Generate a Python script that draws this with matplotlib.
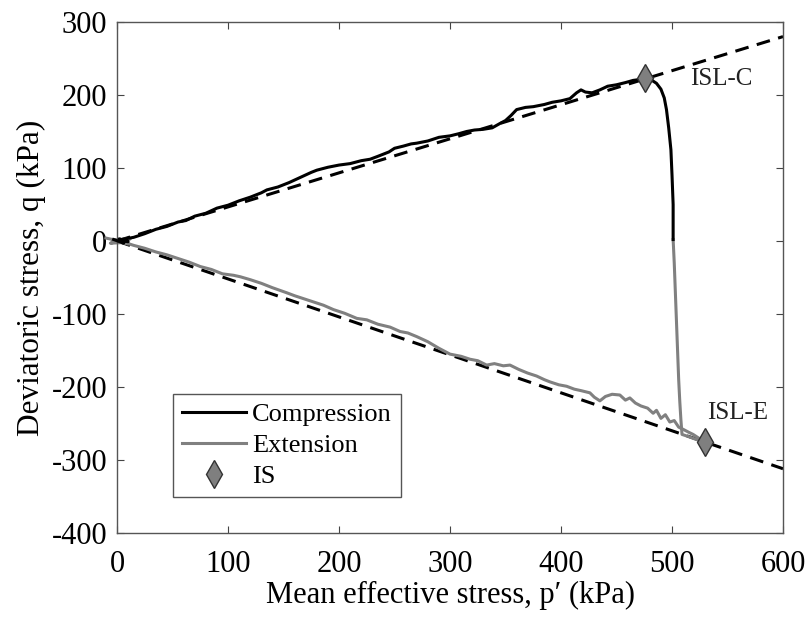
import numpy as np
import matplotlib
matplotlib.use("Agg")
import matplotlib.pyplot as plt

plt.rcParams['font.family'] = ['Liberation Serif', 'DejaVu Serif']
plt.rcParams['axes.unicode_minus'] = False

# compression path (black), p' and q in kPa
comp_p = [-3, 6, 2, 10, 4, 15, 25, 35, 45, 55, 62, 70, 80, 90, 100, 110, 120, 130, 135,
          145, 155, 165, 175, 180, 190, 200, 210, 220, 228, 235, 245, 250, 258, 265, 270,
          280, 290, 300, 308, 315, 322, 330, 338, 345, 350, 355, 360, 368, 375, 385, 392,
          400, 408, 414, 418, 422, 428, 435, 442, 450, 458, 465, 470, 476,
          481, 486, 490, 493, 495, 497, 499, 500, 501, 501, 501]
comp_q = [2, -3, 3, -1, 2, 5, 10, 16, 20, 26, 28, 34, 38, 45, 49, 55, 60, 66, 70,
          74, 80, 87, 94, 97, 101, 104, 106, 110, 112, 116, 122, 127, 130, 133, 134,
          137, 142, 144, 147, 150, 152, 153, 155, 161, 165, 172, 180, 183, 184, 187, 190,
          192, 195, 203, 207, 204, 203, 207, 212, 214, 217, 220, 221, 223,
          221, 216, 208, 196, 180, 155, 125, 90, 50, 20, 2]

# extension path (grey) from the origin to the lower IS
ext_p = [-10, 8, -6, 12, -4, 10, 3, 15, 25, 35, 45, 55, 65, 75, 85, 95, 105, 111, 120, 130,
         140, 153, 160, 170, 180, 186, 195, 205, 216, 225, 235, 246, 255, 262, 270, 280,
         290, 300, 310, 318, 325, 333, 340, 348, 354, 362, 370, 378, 385, 390, 398, 405,
         412, 418, 426, 430, 435, 440, 446, 453, 458, 462, 467, 472, 478, 483, 486, 490,
         494, 498, 502, 506, 510, 515, 519, 524, 530]
ext_q = [4, -2, -3, 3, 1, -4, 0, -6, -10, -15, -19, -24, -29, -35, -39, -45, -47, -49, -53, -58,
         -64, -71, -75, -80, -85, -88, -94, -99, -106, -108, -114, -118, -124, -126, -131, -138,
         -147, -155, -158, -162, -164, -170, -168, -171, -170, -176, -181, -185, -190, -193, -197, -199,
         -203, -205, -208, -214, -219, -213, -210, -211, -218, -215, -222, -226, -229, -236, -232, -243,
         -238, -248, -246, -255, -258, -262, -265, -270, -276]

# extension branch after the compression stage
drop_p = [501, 502, 503, 504, 505, 506, 507, 508, 509, 515, 522, 530]
drop_q = [2, -30, -70, -110, -150, -190, -220, -245, -265, -268, -272, -276]

# instability states
is_p = [476, 530]
is_q = [223, -276]

# instability lines
isl_p = [0, 600]
islc_q = [0, 280]
isle_q = [0, -312]

fig = plt.figure(figsize=(8.11, 6.23), dpi=100)
ax = fig.add_axes([0.1443, 0.1445, 0.8212, 0.8202])

ax.plot(isl_p, islc_q, color='black', lw=2.2, dashes=(4.5, 2.8))
ax.plot(isl_p, isle_q, color='black', lw=2.2, dashes=(4.5, 2.8))

ax.plot(comp_p, comp_q, color='black', lw=2.2, label='Compression', clip_on=False, zorder=3)
ax.plot(ext_p, ext_q, color='#808080', lw=2.2, label='Extension', clip_on=False, zorder=2)
ax.plot(drop_p, drop_q, color='#808080', lw=2.2, zorder=2)
ax.plot(is_p, is_q, ls='none', marker='d', ms=14, mfc='#7f7f7f', mec='#333333', mew=1,
        label='IS', zorder=4)

ax.text(516, 222, 'ISL-C', fontsize=18, va='center', ha='left', color='#222222')
ax.text(532, -236, 'ISL-E', fontsize=18, va='center', ha='left', color='#222222')

ax.set_xlim(0, 600)
ax.set_ylim(-400, 300)
ax.set_xticks(np.arange(0, 601, 100))
ax.set_yticks(np.arange(-400, 301, 100))
ax.tick_params(direction='in', top=True, right=True, length=5, width=0.8,
               labelsize=22, color='#444444')
ax.tick_params(axis='x', pad=12)
ax.tick_params(axis='y', pad=7)
for s in ax.spines.values():
    s.set_color('#555555')
    s.set_linewidth(1)

ax.set_xlabel("Mean effective stress, p\u2032 (kPa)", fontsize=22, labelpad=2)
ax.set_ylabel("Deviatoric stress, q (kPa)", fontsize=22.5, labelpad=4)

leg = ax.legend(loc='lower left', bbox_to_anchor=(0.084, 0.070), borderaxespad=0,
                fontsize=19, handlelength=2.4, labelspacing=0.28, handletextpad=0.25,
                borderpad=0.35, fancybox=False, framealpha=1)
leg.get_frame().set_edgecolor('#555555')
leg.get_frame().set_linewidth(1)

fig.savefig('out.png', dpi=100)
